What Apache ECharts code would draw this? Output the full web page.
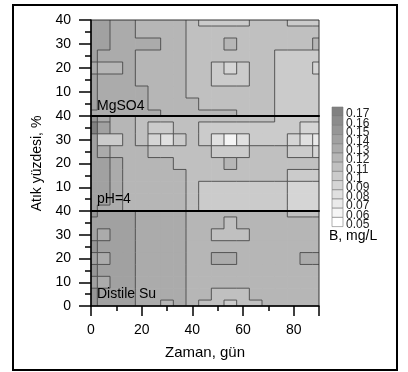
<!DOCTYPE html>
<html>
<head>
<meta charset="utf-8">
<script src="https://cdn.jsdelivr.net/npm/echarts@6/dist/echarts.min.js"></script>
<style>
  html, body { margin: 0; padding: 0; background: #fff; }
  #chart { width: 408px; height: 372px; }
</style>
</head>
<body>
<div id="chart"></div>
<script>
// sampling grid (days, waste %)
const days = [0, 5, 10, 15, 20, 25, 30, 35, 40, 45, 50, 55, 60, 65, 70, 75, 80, 85, 90]
const pcts = [40, 35, 30, 25, 20, 15, 10, 5, 0]

// colour scale levels, B mg/L
const levels = [0.05, 0.06, 0.07, 0.08, 0.09, 0.1, 0.11, 0.12, 0.13, 0.14, 0.15, 0.16, 0.17]
const levelLabels = ['0.05', '0.06', '0.07', '0.08', '0.09', '0.1', '0.11', '0.12', '0.13', '0.14', '0.15', '0.16', '0.17']

// B (mg/L), rows follow pcts (40 -> 0), columns follow days
const mgso4 = [
  [0.14, 0.14, 0.13, 0.13, 0.12, 0.12, 0.12, 0.12, 0.11, 0.10, 0.10, 0.10, 0.10, 0.11, 0.11, 0.11, 0.10, 0.10, 0.10],
  [0.14, 0.14, 0.13, 0.13, 0.12, 0.12, 0.12, 0.12, 0.11, 0.11, 0.11, 0.11, 0.11, 0.11, 0.11, 0.11, 0.11, 0.11, 0.11],
  [0.14, 0.14, 0.13, 0.13, 0.13, 0.13, 0.12, 0.12, 0.11, 0.11, 0.11, 0.12, 0.11, 0.11, 0.11, 0.11, 0.11, 0.11, 0.12],
  [0.14, 0.13, 0.13, 0.13, 0.12, 0.12, 0.12, 0.12, 0.11, 0.11, 0.11, 0.11, 0.11, 0.11, 0.11, 0.10, 0.10, 0.10, 0.10],
  [0.13, 0.12, 0.12, 0.13, 0.12, 0.12, 0.12, 0.12, 0.11, 0.11, 0.10, 0.09, 0.10, 0.11, 0.11, 0.10, 0.10, 0.10, 0.09],
  [0.14, 0.13, 0.13, 0.13, 0.12, 0.12, 0.12, 0.12, 0.11, 0.11, 0.10, 0.10, 0.10, 0.11, 0.11, 0.10, 0.10, 0.10, 0.10],
  [0.14, 0.13, 0.13, 0.13, 0.13, 0.12, 0.12, 0.12, 0.11, 0.11, 0.11, 0.11, 0.11, 0.11, 0.11, 0.10, 0.10, 0.10, 0.10],
  [0.14, 0.13, 0.13, 0.13, 0.13, 0.12, 0.12, 0.12, 0.12, 0.11, 0.11, 0.11, 0.11, 0.11, 0.11, 0.10, 0.10, 0.10, 0.10],
  [0.13, 0.13, 0.13, 0.13, 0.13, 0.13, 0.12, 0.12, 0.12, 0.12, 0.12, 0.12, 0.11, 0.11, 0.11, 0.10, 0.10, 0.10, 0.10]
]
const ph4 = [
  [0.15, 0.13, 0.12, 0.12, 0.11, 0.11, 0.11, 0.11, 0.11, 0.11, 0.11, 0.11, 0.11, 0.11, 0.11, 0.10, 0.10, 0.10, 0.10],
  [0.17, 0.14, 0.12, 0.12, 0.11, 0.10, 0.10, 0.11, 0.11, 0.10, 0.10, 0.10, 0.10, 0.10, 0.10, 0.10, 0.10, 0.09, 0.09],
  [0.14, 0.10, 0.10, 0.12, 0.11, 0.09, 0.08, 0.10, 0.11, 0.10, 0.08, 0.06, 0.08, 0.10, 0.10, 0.10, 0.09, 0.08, 0.07],
  [0.14, 0.13, 0.12, 0.12, 0.12, 0.11, 0.11, 0.11, 0.11, 0.11, 0.10, 0.10, 0.10, 0.11, 0.11, 0.11, 0.10, 0.10, 0.09],
  [0.14, 0.14, 0.13, 0.12, 0.12, 0.12, 0.12, 0.11, 0.11, 0.11, 0.11, 0.12, 0.11, 0.11, 0.11, 0.11, 0.11, 0.11, 0.11],
  [0.14, 0.14, 0.13, 0.12, 0.12, 0.12, 0.12, 0.12, 0.11, 0.11, 0.11, 0.11, 0.11, 0.11, 0.11, 0.11, 0.10, 0.10, 0.10],
  [0.14, 0.14, 0.13, 0.12, 0.12, 0.12, 0.12, 0.12, 0.11, 0.10, 0.10, 0.10, 0.10, 0.10, 0.10, 0.10, 0.09, 0.09, 0.09],
  [0.14, 0.14, 0.13, 0.12, 0.12, 0.12, 0.12, 0.12, 0.11, 0.10, 0.10, 0.10, 0.10, 0.10, 0.10, 0.10, 0.09, 0.09, 0.09],
  [0.14, 0.13, 0.13, 0.12, 0.12, 0.12, 0.12, 0.12, 0.11, 0.10, 0.10, 0.10, 0.10, 0.10, 0.10, 0.10, 0.09, 0.09, 0.09]
]
const distile = [
  [0.15, 0.14, 0.14, 0.14, 0.13, 0.13, 0.13, 0.13, 0.12, 0.12, 0.12, 0.12, 0.12, 0.12, 0.12, 0.12, 0.11, 0.11, 0.11],
  [0.14, 0.14, 0.14, 0.14, 0.13, 0.13, 0.13, 0.13, 0.12, 0.12, 0.12, 0.11, 0.12, 0.12, 0.12, 0.12, 0.12, 0.12, 0.12],
  [0.14, 0.13, 0.14, 0.14, 0.13, 0.13, 0.13, 0.13, 0.12, 0.12, 0.11, 0.11, 0.11, 0.12, 0.12, 0.12, 0.12, 0.12, 0.12],
  [0.15, 0.14, 0.14, 0.14, 0.13, 0.13, 0.13, 0.13, 0.12, 0.12, 0.12, 0.12, 0.12, 0.12, 0.12, 0.12, 0.12, 0.12, 0.12],
  [0.14, 0.13, 0.14, 0.14, 0.13, 0.13, 0.13, 0.13, 0.12, 0.12, 0.13, 0.13, 0.12, 0.12, 0.12, 0.12, 0.12, 0.13, 0.13],
  [0.15, 0.14, 0.14, 0.14, 0.13, 0.13, 0.13, 0.13, 0.12, 0.12, 0.12, 0.12, 0.12, 0.12, 0.12, 0.12, 0.12, 0.12, 0.12],
  [0.14, 0.13, 0.14, 0.14, 0.13, 0.13, 0.13, 0.13, 0.12, 0.12, 0.12, 0.12, 0.12, 0.12, 0.12, 0.12, 0.12, 0.12, 0.12],
  [0.15, 0.14, 0.14, 0.14, 0.13, 0.13, 0.13, 0.13, 0.12, 0.12, 0.11, 0.11, 0.11, 0.12, 0.12, 0.12, 0.12, 0.12, 0.12],
  [0.15, 0.14, 0.14, 0.14, 0.13, 0.13, 0.12, 0.13, 0.12, 0.11, 0.11, 0.10, 0.11, 0.11, 0.12, 0.12, 0.12, 0.12, 0.12]
]

const panels = [mgso4, ph4, distile]
const panelNames = ['MgSO4', 'pH=4', 'Distile Su']

const FONT = '"Liberation Sans", Arial, sans-serif'
const STEP = 5

const grayOf = i => {
  const g = Math.round(255 - i * 10.5)
  return `rgb(${g},${g},${g})`
}

const toData = grid => {
  const out = []
  grid.forEach((row, r) => row.forEach((v, c) => out.push([days[c], pcts[r], v])))
  return out
}

const cellItem = (params, api) => {
  const x = api.value(0)
  const y = api.value(1)
  const a = api.coord([Math.max(x - STEP / 2, 0), Math.min(y + STEP / 2, 40)])
  const b = api.coord([Math.min(x + STEP / 2, 90), Math.max(y - STEP / 2, 0)])
  return {
    type: 'rect',
    shape: { x: a[0], y: a[1], width: b[0] - a[0] + 0.6, height: b[1] - a[1] + 0.6 },
    style: { fill: api.visual('color') }
  }
}

const edgeItem = grid => (params, api) => {
  const x = api.value(0)
  const y = api.value(1)
  const v = api.value(2)
  const c = days.indexOf(x)
  const r = pcts.indexOf(y)
  const children = []
  const line = (p, q) => {
    const a = api.coord(p)
    const b = api.coord(q)
    children.push({
      type: 'line',
      shape: { x1: a[0], y1: a[1], x2: b[0], y2: b[1] },
      style: { stroke: '#4a4a4a', lineWidth: 0.9 }
    })
  }
  if (c < days.length - 1 && grid[r][c + 1] !== v) {
    line([x + STEP / 2, Math.min(y + STEP / 2, 40)], [x + STEP / 2, Math.max(y - STEP / 2, 0)])
  }
  if (r < pcts.length - 1 && grid[r + 1][c] !== v) {
    line([Math.max(x - STEP / 2, 0), y - STEP / 2], [Math.min(x + STEP / 2, 90), y - STEP / 2])
  }
  return { type: 'group', children }
}

const grids = [
  { left: 91, top: 20, width: 228, height: 96 },
  { left: 91, top: 116, width: 228, height: 95 },
  { left: 91, top: 211, width: 228, height: 95 }
]

// colour bar, drawn top (0.17) to bottom (0.05)
const barX = 332
const barTop = 107
const boxH = 9.2
const colorBar = []
levels.slice().reverse().forEach((v, j) => {
  const i = levels.length - 1 - j
  colorBar.push({
    type: 'rect',
    silent: true,
    shape: { x: barX, y: barTop + j * boxH, width: 11, height: boxH },
    style: { fill: grayOf(i), stroke: '#7a7a7a', lineWidth: 0.6 }
  })
  colorBar.push({
    type: 'text',
    silent: true,
    x: barX + 14,
    y: barTop + 7 + j * boxH,
    style: { text: levelLabels[i], fill: '#222', font: `12px ${FONT}`, verticalAlign: 'middle' }
  })
})

const chart = echarts.init(document.getElementById('chart'))

chart.setOption({
  animation: false,
  textStyle: { fontFamily: FONT },
  grid: grids.map(g => ({ ...g, show: true, z: 5, borderColor: '#333', borderWidth: 1 })),
  xAxis: grids.map((g, i) => ({
    type: 'value',
    gridIndex: i,
    z: 6,
    min: 0,
    max: 90,
    interval: 20,
    splitLine: { show: false },
    axisLine: { show: true, onZero: false, lineStyle: { color: '#000', width: i < 2 ? 2 : 1.5 } },
    axisTick: { show: i === 2, length: 10, lineStyle: { color: '#000', width: 1.5 } },
    minorTick: { show: i === 2, splitNumber: 2, length: 5, lineStyle: { color: '#000', width: 1.5 } },
    axisLabel: { show: i === 2, showMaxLabel: false, color: '#000', fontSize: 14, margin: 17, fontFamily: FONT },
    name: i === 2 ? 'Zaman, gün' : '',
    nameLocation: 'middle',
    nameGap: 39,
    nameTextStyle: { color: '#000', fontSize: 15, fontFamily: FONT }
  })),
  yAxis: grids.map((g, i) => ({
    type: 'value',
    gridIndex: i,
    z: 6,
    min: 0,
    max: 40,
    interval: 10,
    splitLine: { show: false },
    axisLine: { show: true, onZero: false, lineStyle: { color: '#000', width: 1.5 } },
    axisTick: { show: true, length: 12, lineStyle: { color: '#000', width: 1.5 } },
    minorTick: { show: true, splitNumber: 2, length: 6, lineStyle: { color: '#000', width: 1.5 } },
    axisLabel: { color: '#000', fontSize: 14, margin: 20, showMinLabel: i === 2, fontFamily: FONT },
    name: i === 1 ? 'Atık yüzdesi, %' : '',
    nameLocation: 'middle',
    nameGap: 47,
    nameTextStyle: { color: '#000', fontSize: 14, fontFamily: FONT }
  })),
  visualMap: {
    type: 'piecewise',
    show: false,
    seriesIndex: [0, 1, 2],
    dimension: 2,
    pieces: levels.map((v, i) => ({
      gte: v - 0.005,
      lt: v + 0.005,
      label: levelLabels[i],
      color: grayOf(i)
    }))
  },
  graphic: [
    {
      type: 'rect',
      shape: { x: 13, y: 5, width: 384, height: 365 },
      style: { fill: 'none', stroke: '#000', lineWidth: 2 },
      silent: true
    },
    ...colorBar,
    {
      type: 'text',
      x: 329,
      y: 236,
      style: { text: 'B, mg/L', fill: '#000', font: `14px ${FONT}`, verticalAlign: 'middle' }
    },
    ...panelNames.map((name, i) => ({
      type: 'text',
      x: 97,
      y: [106, 199, 294][i],
      z: 100,
      style: { text: name, fill: '#000', font: `14px ${FONT}`, verticalAlign: 'middle' }
    }))
  ],
  series: [
    ...panels.map((grid, i) => ({
      type: 'custom',
      xAxisIndex: i,
      yAxisIndex: i,
      clip: true,
      renderItem: cellItem,
      encode: { x: 0, y: 1 },
      data: toData(grid),
      z: 1
    })),
    ...panels.map((grid, i) => ({
      type: 'custom',
      xAxisIndex: i,
      yAxisIndex: i,
      clip: true,
      renderItem: edgeItem(grid),
      encode: { x: 0, y: 1 },
      data: toData(grid),
      z: 2
    }))
  ]
})
</script>
</body>
</html>
